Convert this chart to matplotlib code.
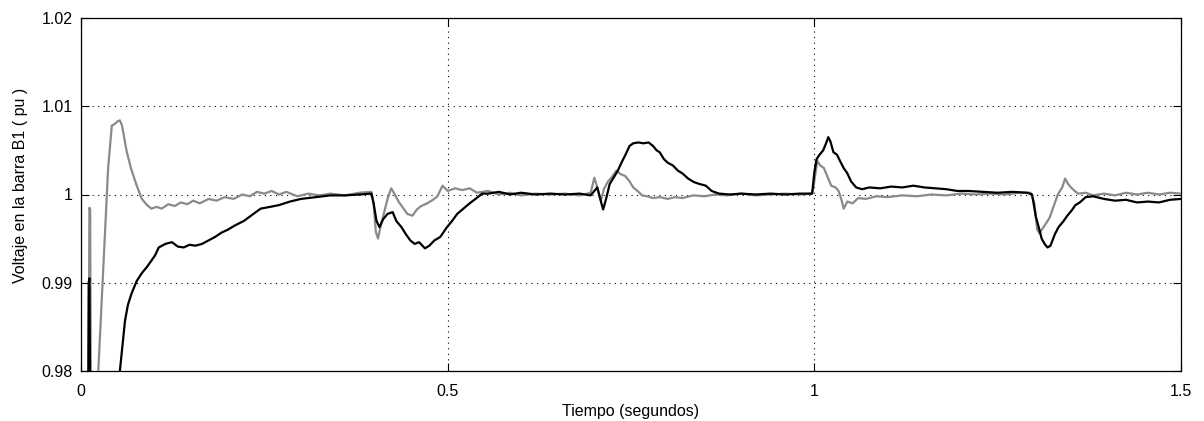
import matplotlib
matplotlib.use("Agg")
import matplotlib.pyplot as plt

# Gray series (time s, voltage pu)
gray_t = [0.0, 0.0100, 0.0115, 0.0125, 0.0135, 0.0150, 0.0230, 0.0300, 0.0370, 0.0420,
          0.0460, 0.0500, 0.0530, 0.0560, 0.0620, 0.0680, 0.0760, 0.0830, 0.0900, 0.0960,
          0.1030, 0.1100, 0.1190, 0.1280, 0.1360, 0.1450, 0.1530, 0.1620, 0.1740, 0.1850,
          0.1960, 0.2080, 0.2200, 0.2300, 0.2400, 0.2500, 0.2600, 0.2700, 0.2800, 0.2950,
          0.3100, 0.3250, 0.3400, 0.3600, 0.3800, 0.3960, 0.3990, 0.4020, 0.4050, 0.4080,
          0.4120, 0.4180, 0.4230, 0.4280, 0.4330, 0.4390, 0.4450, 0.4520, 0.4580, 0.4640,
          0.4720, 0.4800, 0.4860, 0.4930, 0.5000, 0.5100, 0.5200, 0.5300, 0.5400, 0.5550,
          0.5700, 0.5850, 0.6000, 0.6200, 0.6400, 0.6600, 0.6800, 0.6950, 0.7000, 0.7040,
          0.7090, 0.7130, 0.7180, 0.7240, 0.7300, 0.7360, 0.7420, 0.7480, 0.7530, 0.7590,
          0.7650, 0.7720, 0.7800, 0.7900, 0.8000, 0.8100, 0.8200, 0.8350, 0.8500, 0.8650,
          0.8800, 0.9000, 0.9200, 0.9400, 0.9600, 0.9800, 0.9970, 1.0000, 1.0040, 1.0080,
          1.0130, 1.0180, 1.0230, 1.0290, 1.0330, 1.0370, 1.0400, 1.0450, 1.0520, 1.0600,
          1.0700, 1.0850, 1.1000, 1.1200, 1.1400, 1.1600, 1.1800, 1.2000, 1.2200, 1.2400,
          1.2600, 1.2800, 1.2950, 1.3000, 1.3040, 1.3070, 1.3100, 1.3150, 1.3210, 1.3270,
          1.3320, 1.3380, 1.3420, 1.3460, 1.3500, 1.3550, 1.3600, 1.3700, 1.3800, 1.3950,
          1.4100, 1.4250, 1.4400, 1.4550, 1.4700, 1.4850, 1.5000]
gray_v = [0.9700, 0.9700, 0.9985, 0.9983, 0.9750, 0.9700, 0.9790, 0.9910, 1.0030, 1.0078,
          1.0080, 1.0083, 1.0084, 1.0078, 1.0050, 1.0030, 1.0010, 0.9995, 0.9988, 0.9984,
          0.9986, 0.9984, 0.9989, 0.9987, 0.9991, 0.9989, 0.9993, 0.9990, 0.9995, 0.9993,
          0.9997, 0.9995, 1.0000, 0.9998, 1.0003, 1.0001, 1.0004, 1.0000, 1.0003, 0.9998,
          1.0001, 0.9999, 1.0001, 0.9999, 1.0002, 1.0003, 0.9990, 0.9958, 0.9950, 0.9962,
          0.9975, 0.9995, 1.0007, 1.0000, 0.9992, 0.9985, 0.9978, 0.9976, 0.9983, 0.9987,
          0.9990, 0.9994, 0.9998, 1.0010, 1.0004, 1.0007, 1.0005, 1.0007, 1.0002, 1.0004,
          1.0000, 1.0002, 0.9999, 1.0001, 1.0000, 1.0001, 0.9999, 1.0002, 1.0019, 1.0008,
          0.9993, 1.0006, 1.0014, 1.0020, 1.0027, 1.0023, 1.0021, 1.0015, 1.0008, 1.0004,
          0.9999, 0.9998, 0.9996, 0.9997, 0.9995, 0.9997, 0.9996, 0.9999, 0.9998, 1.0000,
          0.9999, 1.0001, 0.9999, 1.0000, 1.0001, 1.0000, 1.0001, 1.0015, 1.0038, 1.0033,
          1.0030, 1.0020, 1.0010, 1.0008, 1.0004, 0.9994, 0.9984, 0.9992, 0.9990, 0.9996,
          0.9995, 0.9998, 0.9997, 0.9999, 0.9998, 1.0000, 0.9999, 1.0001, 1.0000, 1.0001,
          1.0000, 1.0002, 1.0002, 0.9990, 0.9960, 0.9956, 0.9960, 0.9966, 0.9974, 0.9988,
          1.0000, 1.0008, 1.0018, 1.0012, 1.0008, 1.0004, 1.0001, 1.0002, 0.9999, 1.0001,
          0.9999, 1.0002, 1.0000, 1.0002, 1.0000, 1.0002, 1.0001]

# Black series (time s, voltage pu)
black_t = [0.0, 0.0090, 0.0105, 0.0115, 0.0130, 0.0150, 0.0500, 0.0530, 0.0600, 0.0640,
           0.0690, 0.0760, 0.0830, 0.0900, 0.0960, 0.1010, 0.1060, 0.1150, 0.1240, 0.1320,
           0.1400, 0.1480, 0.1560, 0.1650, 0.1740, 0.1830, 0.1920, 0.2000, 0.2100, 0.2220,
           0.2350, 0.2450, 0.2580, 0.2700, 0.2850, 0.3000, 0.3200, 0.3400, 0.3600, 0.3800,
           0.3960, 0.3990, 0.4030, 0.4070, 0.4120, 0.4180, 0.4250, 0.4300, 0.4370, 0.4430,
           0.4490, 0.4550, 0.4610, 0.4690, 0.4750, 0.4820, 0.4900, 0.4990, 0.5060, 0.5130,
           0.5200, 0.5300, 0.5380, 0.5470, 0.5550, 0.5700, 0.5850, 0.6000, 0.6200, 0.6400,
           0.6600, 0.6800, 0.6950, 0.7040, 0.7090, 0.7120, 0.7160, 0.7210, 0.7270, 0.7320,
           0.7370, 0.7430, 0.7480, 0.7530, 0.7600, 0.7670, 0.7740, 0.7800, 0.7850, 0.7890,
           0.7950, 0.8000, 0.8070, 0.8140, 0.8200, 0.8280, 0.8360, 0.8430, 0.8520, 0.8600,
           0.8700, 0.8850, 0.9000, 0.9200, 0.9400, 0.9600, 0.9800, 0.9970, 1.0000, 1.0030,
           1.0070, 1.0120, 1.0160, 1.0190, 1.0220, 1.0260, 1.0310, 1.0350, 1.0400, 1.0450,
           1.0500, 1.0570, 1.0650, 1.0750, 1.0900, 1.1050, 1.1200, 1.1350, 1.1500, 1.1650,
           1.1800, 1.1950, 1.2100, 1.2300, 1.2500, 1.2700, 1.2900, 1.2970, 1.3020, 1.3060,
           1.3100, 1.3140, 1.3180, 1.3220, 1.3280, 1.3330, 1.3400, 1.3450, 1.3510, 1.3560,
           1.3620, 1.3700, 1.3800, 1.3950, 1.4100, 1.4250, 1.4400, 1.4550, 1.4700, 1.4850,
           1.5000]
black_v = [0.9600, 0.9600, 0.9900, 0.9905, 0.9700, 0.9600, 0.9600, 0.9800, 0.9857, 0.9875,
           0.9888, 0.9902, 0.9911, 0.9918, 0.9925, 0.9931, 0.9940, 0.9944, 0.9946, 0.9941,
           0.9940, 0.9943, 0.9942, 0.9944, 0.9948, 0.9952, 0.9957, 0.9960, 0.9965, 0.9970,
           0.9978, 0.9984, 0.9986, 0.9988, 0.9992, 0.9995, 0.9997, 0.9999, 0.9999, 1.0000,
           1.0001, 0.9990, 0.9970, 0.9963, 0.9972, 0.9978, 0.9980, 0.9970, 0.9963, 0.9955,
           0.9948, 0.9944, 0.9946, 0.9939, 0.9942, 0.9948, 0.9952, 0.9963, 0.9970, 0.9978,
           0.9983, 0.9990, 0.9995, 1.0001, 1.0001, 1.0003, 1.0000, 1.0002, 1.0000, 1.0001,
           1.0000, 1.0001, 0.9999, 1.0008, 0.9992, 0.9983, 0.9995, 1.0012, 1.0020, 1.0027,
           1.0036, 1.0046, 1.0055, 1.0058, 1.0059, 1.0058, 1.0059, 1.0055, 1.0050, 1.0048,
           1.0040, 1.0036, 1.0033, 1.0027, 1.0024, 1.0018, 1.0014, 1.0012, 1.0010, 1.0004,
           1.0001, 1.0000, 1.0001, 1.0000, 1.0001, 1.0000, 1.0001, 1.0001, 1.0025, 1.0040,
           1.0045, 1.0050, 1.0058, 1.0065, 1.0060, 1.0048, 1.0045, 1.0038, 1.0030, 1.0024,
           1.0015, 1.0008, 1.0006, 1.0008, 1.0007, 1.0009, 1.0008, 1.0010, 1.0008, 1.0007,
           1.0006, 1.0004, 1.0004, 1.0003, 1.0002, 1.0003, 1.0002, 1.0000, 0.9975, 0.9963,
           0.9950, 0.9944, 0.9940, 0.9942, 0.9955, 0.9963, 0.9970, 0.9976, 0.9982, 0.9988,
           0.9991, 0.9997, 0.9998, 0.9995, 0.9993, 0.9994, 0.9991, 0.9992, 0.9991, 0.9994,
           0.9995]

x_ticks = [0, 0.5, 1, 1.5]
x_tick_labels = ["0", "0.5", "1", "1.5"]
y_ticks = [0.98, 0.99, 1.0, 1.01, 1.02]
y_tick_labels = ["0.98", "0.99", "1", "1.01", "1.02"]

plt.rcParams['font.family'] = ['Liberation Sans', 'DejaVu Sans']

fig = plt.figure(figsize=(12.04, 4.21), dpi=100)
ax = fig.add_axes([81 / 1204, 1 - 371 / 421, (1181 - 81) / 1204, (371 - 18) / 421])

ax.plot(gray_t, gray_v, color="#8a8a8a", lw=1.6, zorder=3)
ax.plot(black_t, black_v, color="black", lw=1.6, zorder=3)

ax.set_xlim(0, 1.5)
ax.set_ylim(0.98, 1.02)
ax.set_xticks(x_ticks)
ax.set_xticklabels(x_tick_labels)
ax.set_yticks(y_ticks)
ax.set_yticklabels(y_tick_labels)
ax.tick_params(direction="in", length=6, width=0.8, top=True, right=True,
               labelsize=11.5, pad=6, colors="black")
ax.tick_params(axis="x", pad=9)
ax.grid(True, color="black", linestyle=(0, (1, 4)), linewidth=0.8)
for s in ax.spines.values():
    s.set_linewidth(0.9)
    s.set_color("black")

ax.set_xlabel("Tiempo (segundos)", fontsize=11.5, labelpad=4)
ax.set_ylabel("Voltaje en la barra B1 ( pu )", fontsize=11.5)
ax.yaxis.set_label_coords(-0.048, 0.527)

fig.savefig("out.png", dpi=100)
